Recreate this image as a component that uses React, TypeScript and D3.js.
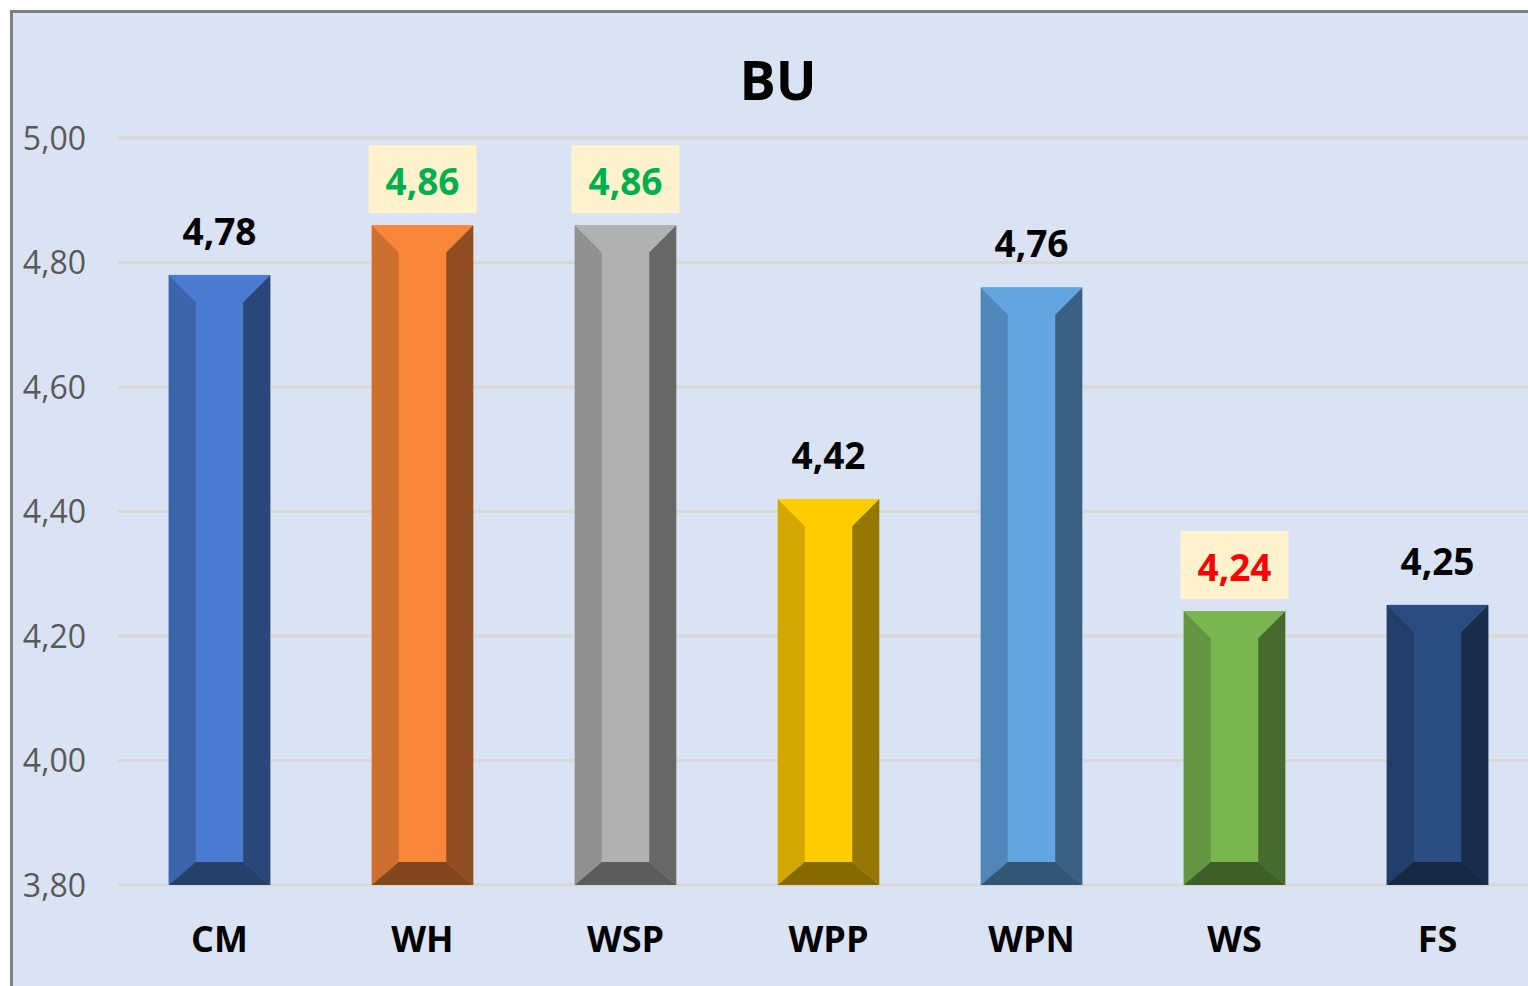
import * as d3 from 'd3'
import { useEffect, useRef } from 'react'

const categories = ['CM', 'WH', 'WSP', 'WPP', 'WPN', 'WS', 'FS']
const values = [4.78, 4.86, 4.86, 4.42, 4.76, 4.24, 4.25]
const barColors = ['#4a7bd0', '#f9873a', '#b1b1b1', '#ffcc00', '#62a5e0', '#7ab650', '#2b4c81']
// labels drawn in a pale box, with their own text colour
const highlighted = { WH: '#00b050', WSP: '#00b050', WS: '#ff0000' }
const yTicks = [3.8, 4.0, 4.2, 4.4, 4.6, 4.8, 5.0]

const W = 1528
const H = 986
const FONT = "'Open Sans', 'Noto Sans', sans-serif"

const shade = (c, k) => {
  const r = d3.rgb(c)
  return d3.rgb(r.r * k, r.g * k, r.b * k).formatHex()
}

const App = () => {
  const ref = useRef(null)

  useEffect(() => {
    const svg = d3.select(ref.current)
    svg.selectAll('*').remove()

    // frame
    svg.append('rect').attr('width', W).attr('height', H).attr('fill', '#ffffff')
    svg
      .append('rect')
      .attr('x', 11.5)
      .attr('y', 11.5)
      .attr('width', W + 20)
      .attr('height', H + 20)
      .attr('fill', '#dae3f3')
      .attr('stroke', '#808080')
      .attr('stroke-width', 3)

    const x = d3
      .scaleBand()
      .domain(categories)
      .range([118, 1539])
      .paddingInner(0.5)
      .paddingOuter(0.25)
    const y = d3.scaleLinear().domain([3.8, 5.0]).range([885, 138])
    const fmt = (v) => d3.format('.2f')(v).replace('.', ',')

    // gridlines
    svg
      .append('g')
      .selectAll('line')
      .data(yTicks)
      .join('line')
      .attr('x1', 118)
      .attr('x2', W)
      .attr('y1', (d) => y(d))
      .attr('y2', (d) => y(d))
      .attr('stroke', '#d8d8d4')
      .attr('stroke-width', 3)

    // y tick labels
    svg
      .append('g')
      .selectAll('text')
      .data(yTicks)
      .join('text')
      .attr('x', 86)
      .attr('y', (d) => y(d))
      .attr('dy', '0.36em')
      .attr('text-anchor', 'end')
      .attr('fill', '#595959')
      .style('font', `32px ${FONT}`)
      .text(fmt)

    // title
    svg
      .append('text')
      .attr('x', 778)
      .attr('y', 100)
      .attr('text-anchor', 'middle')
      .style('font', `bold 54px ${FONT}`)
      .attr('fill', '#000')
      .text('BU')

    // bevelled bars
    const bw = x.bandwidth()
    const bev = 27
    const bevB = 23
    const bars = svg
      .append('g')
      .selectAll('g')
      .data(categories.map((c, i) => ({ c, v: values[i], col: barColors[i] })))
      .join('g')
    bars.each(function (d) {
      const g = d3.select(this)
      const x0 = x(d.c)
      const x1 = x0 + bw
      const t = y(d.v)
      const b = y(3.8)
      const poly = (pts, fill) =>
        g.append('polygon').attr('points', pts.map((p) => p.join(',')).join(' ')).attr('fill', fill)
      // front
      g.append('rect').attr('x', x0).attr('y', t).attr('width', bw).attr('height', b - t).attr('fill', d.col)
      poly([[x0, t], [x0 + bev, t + bev], [x0 + bev, b - bevB], [x0, b]], shade(d.col, 0.82))
      poly([[x1, t], [x1 - bev, t + bev], [x1 - bev, b - bevB], [x1, b]], shade(d.col, 0.58))
      poly([[x0, b], [x0 + bev, b - bevB], [x1 - bev, b - bevB], [x1, b]], shade(d.col, 0.52))
      poly([[x0, t], [x0 + bev, t + bev], [x1 - bev, t + bev], [x1, t]], d.col)
    })

    // value labels
    const labels = svg
      .append('g')
      .selectAll('g')
      .data(categories.map((c, i) => ({ c, v: values[i] })))
      .join('g')
    labels
      .filter((d) => highlighted[d.c])
      .append('rect')
      .attr('x', (d) => x(d.c) + bw / 2 - 54)
      .attr('y', (d) => y(d.v) - 30 - 50)
      .attr('width', 108)
      .attr('height', 68)
      .attr('fill', '#fff2cc')
    labels
      .append('text')
      .attr('x', (d) => x(d.c) + bw / 2)
      .attr('y', (d) => y(d.v) - 30)
      .attr('text-anchor', 'middle')
      .attr('fill', (d) => highlighted[d.c] || '#000')
      .style('font', `bold 37px ${FONT}`)
      .text((d) => fmt(d.v))

    // category labels
    svg
      .append('g')
      .selectAll('text')
      .data(categories)
      .join('text')
      .attr('x', (d) => x(d) + bw / 2)
      .attr('y', 952)
      .attr('text-anchor', 'middle')
      .attr('fill', '#000')
      .style('font', `bold 36px ${FONT}`)
      .text((d) => d)
  }, [])

  return (
    <svg
      ref={ref}
      width={W}
      height={H}
      style={{ position: 'absolute', left: 0, top: 0, display: 'block' }}
    ></svg>
  )
}
export default App
